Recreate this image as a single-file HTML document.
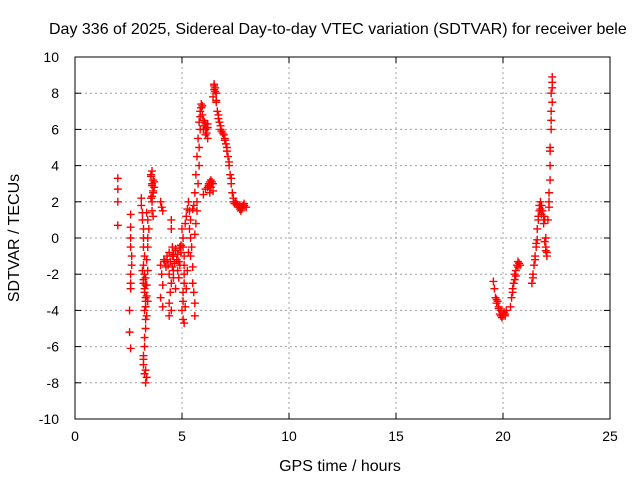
<!DOCTYPE html>
<html><head><meta charset="utf-8">
<style>
html,body{margin:0;padding:0;background:#fff;}
svg{display:block;font-family:"Liberation Sans",Arial,sans-serif;}
</style></head>
<body>
<svg id="chart" width="640" height="480" viewBox="0 0 640 480">
<rect x="0" y="0" width="640" height="480" fill="#fff"/>
<text x="49" y="34" font-size="16" fill="#000">Day 336 of 2025, Sidereal Day-to-day VTEC variation (SDTVAR) for receiver bele</text>
<g id="grid"></g>
<g id="axes"></g>
<g id="points"></g>
<text x="340" y="471" font-size="16" text-anchor="middle">GPS time / hours</text>
<text transform="translate(19,238) rotate(-90)" font-size="16" text-anchor="middle">SDTVAR / TECUs</text>
</svg>
<script>
const xTicks = [0,5,10,15,20,25];
const yTicks = [-10,-8,-6,-4,-2,0,2,4,6,8,10];
const times = [
2.0,2.0,2.0,2.0,
2.6,2.6,2.6,2.6,2.65,2.65,2.6,2.6,2.6,2.55,2.55,2.6,
3.1,3.1,3.15,3.15,3.2,3.2,3.2,3.25,3.2,3.25,3.2,3.25,3.3,3.25,3.3,3.3,3.25,3.2,3.2,3.25,3.3,3.35,3.3,3.35,
3.4,3.4,3.45,3.4,3.35,3.4,3.35,3.3,
3.55,3.6,3.65,3.6,3.7,3.65,3.55,3.6,3.6,3.65,
4.0,4.05,4.1,4.0,4.05,4.1,4.0,4.1,4.15,
4.3,4.35,4.4,4.5,4.5,4.55,4.55,4.6,4.5,4.45,4.4,4.4,4.5,4.6,4.7,4.75,4.8,4.85,4.9,4.95,4.9,4.7,4.6,
5.0,5.05,5.05,5.1,5.1,5.1,5.1,5.05,5.05,5.0,5.05,5.1,
5.3,5.35,5.4,5.35,5.4,5.45,5.4,5.5,5.5,5.55,5.6,5.6,5.55,5.5,
5.6,5.65,5.7,5.7,5.75,5.8,5.8,5.85,5.85,5.9,5.9,
5.95,6.0,6.05,6.1,6.15,6.2,6.1,6.2,
6.0,6.1,6.2,6.3,6.35,6.4,6.45,6.3,
6.45,6.5,6.5,6.55,6.6,6.6,6.65,6.7,6.75,
6.8,6.9,7.0,7.05,7.1,7.15,
7.2,7.25,7.3,7.35,7.4,7.45,
7.5,7.6,7.7,7.8,7.9,8.0,7.75,7.85,
19.55,19.6,19.65,19.7,19.75,19.8,19.85,19.9,19.95,20.0,20.05,20.1,
20.35,20.4,20.45,20.5,20.55,20.6,20.65,20.7,20.75,
21.35,21.4,21.45,21.5,21.55,21.6,21.6,
21.65,21.7,21.75,21.8,21.85,21.9,21.95,22.0,22.0,22.05,22.05,
22.1,22.15,22.15,22.2,22.2,22.2,22.25,22.25,22.3,22.25,22.3,22.3,
3.15,3.2,3.25,3.3,3.3,3.35,3.25,3.2,3.3,3.35,3.4,3.3,
3.55,3.6,3.7,3.65,3.6,
4.2,4.25,4.3,4.4,4.45,4.55,4.6,4.65,4.7,4.8,4.85,4.95,
5.15,5.2,5.25,5.2,5.15,5.25,5.3,
5.6,5.65,5.7,5.75,5.8,5.85,5.9,
5.95,6.0,6.05,6.1,6.15,6.2,6.25,6.3,
6.25,6.3,6.35,6.4,6.45,6.5,
6.55,6.6,6.7,6.8,6.85,6.95,7.0,7.1,7.2,7.3,7.4,
7.55,7.65,7.7,7.8,7.9,
19.7,19.8,19.9,20.0,20.1,20.15,
20.45,20.55,20.6,20.7,20.8,
21.4,21.5,21.55,21.65,21.7,21.75,21.8,21.9,21.95,22.0,
22.15,22.2,22.25,22.3
];
const values = [
3.3,2.7,2.0,0.7,
1.3,0.6,0.0,-0.5,-1.0,-1.5,-2.0,-2.5,-2.8,-4.0,-5.2,-6.1,
2.2,1.8,1.4,1.0,0.5,0.0,-0.5,-1.0,-1.5,-2.0,-2.5,-3.0,-3.5,-4.0,-4.5,-5.0,-5.5,-6.5,-7.0,-7.5,-8.0,-3.2,-2.2,-1.2,
-0.5,0.0,0.5,1.0,1.4,-1.8,-2.6,-3.8,
3.5,3.7,3.2,3.0,2.8,2.5,2.2,2.0,1.5,1.2,
2.0,1.7,1.5,-1.5,-2.0,-2.6,-3.3,-3.8,-1.2,
-1.0,-1.5,-2.0,1.0,0.5,-0.5,-1.0,-1.8,-2.5,-3.0,-3.6,-4.3,-4.0,-1.0,-0.7,-1.2,-1.8,-2.2,-1.5,-0.8,-0.5,-2.8,-2.2,
0.5,0.0,-0.5,-1.0,-1.5,-2.0,-2.5,-3.0,-3.5,-4.0,-4.5,-4.7,
2.0,1.5,1.0,0.5,0.0,-0.5,-1.0,-1.6,-2.5,-3.0,-3.6,-4.3,1.8,1.6,
0.2,0.8,1.5,2.0,3.0,4.0,5.0,6.0,6.7,7.2,7.4,
7.3,6.5,6.2,6.0,5.8,5.5,6.3,6.1,
2.4,2.7,2.8,3.0,3.2,3.1,2.6,2.5,
7.8,8.2,8.5,8.3,8.0,7.5,7.0,6.6,6.4,
6.0,5.8,5.5,5.2,5.0,4.5,
4.0,3.5,3.0,2.5,2.0,1.9,
2.0,1.8,1.6,1.7,1.9,1.7,1.5,1.8,
-2.4,-2.8,-3.3,-3.6,-3.5,-3.9,-4.2,-4.3,-4.4,-4.3,-4.1,-4.3,
-3.8,-3.3,-2.8,-2.5,-2.0,-1.8,-1.5,-1.3,-1.4,
-2.5,-2.0,-1.5,-1.0,-0.5,-0.1,0.5,
1.0,1.5,2.0,1.8,1.5,1.2,1.0,0.0,-0.5,-0.8,-1.0,
1.0,1.7,2.5,3.2,4.0,5.0,6.0,6.5,7.5,8.0,8.6,8.9,
-1.8,-2.3,-2.8,-3.3,-3.8,-4.3,-6.0,-6.7,-7.3,-7.7,-3.5,-2.6,
3.4,2.9,3.1,2.6,2.3,
-1.3,-1.6,-1.2,-0.8,-1.3,-1.6,-0.9,-1.4,-0.6,-0.9,-1.3,-0.4,
0.8,1.2,1.6,-2.8,-3.8,-1.8,-0.8,
2.5,3.5,4.5,5.5,6.4,7.0,7.2,
6.8,6.0,6.4,5.7,6.1,6.3,3.0,2.8,
2.9,3.1,2.8,3.0,3.0,8.4,
8.1,7.6,6.8,6.2,5.9,5.7,5.4,4.8,4.2,3.3,2.2,
1.9,1.7,1.8,1.6,1.8,
-3.4,-3.8,-4.0,-4.2,-4.2,-4.0,
-3.0,-2.3,-2.1,-1.6,-1.5,
-2.2,-1.2,-0.3,1.2,1.8,1.6,1.3,0.8,-0.2,-0.7,
2.0,4.8,7.0,8.3
];
const L=75,R=610,T=57,B=419;
const sx=t=>L+(t-0)/(25-0)*(R-L);
const sy=v=>B-(v-(-10))/(20)*(B-T);
const NS="http://www.w3.org/2000/svg";
const grid=document.getElementById('grid'),axes=document.getElementById('axes'),pts=document.getElementById('points');
function mk(tag,attrs,parent){const e=document.createElementNS(NS,tag);for(const k in attrs)e.setAttribute(k,attrs[k]);parent.appendChild(e);return e;}
xTicks.forEach(t=>{
  const x=sx(t);
  if(t>0&&t<25){const g=mk('line',{x1:x,y1:T,x2:x,y2:B,stroke:'#a0a0a0','stroke-dasharray':'2,3'},grid);
  
  }
  mk('line',{x1:x,y1:B,x2:x,y2:B-6,stroke:'#000'},axes);
  mk('line',{x1:x,y1:T,x2:x,y2:T+6,stroke:'#000'},axes);
  const lb=mk('text',{x:x,y:B+22,'font-size':14,'text-anchor':'middle'},axes);
  lb.textContent=t;
  
  
});
yTicks.forEach(v=>{
  const y=sy(v);
  if(v>-10&&v<10){const g=mk('line',{x1:L,y1:y,x2:R,y2:y,stroke:'#a0a0a0','stroke-dasharray':'2,3'},grid);
  
  }
  mk('line',{x1:L,y1:y,x2:L+6,y2:y,stroke:'#000'},axes);
  mk('line',{x1:R,y1:y,x2:R-6,y2:y,stroke:'#000'},axes);
  const lb=mk('text',{x:L-16,y:y+5,'font-size':14,'text-anchor':'end'},axes);
  lb.textContent=v;
  
  
});
mk('rect',{x:L,y:T,width:R-L,height:B-T,fill:'none',stroke:'#000'},axes);
times.forEach((t,i)=>{
  const x=sx(t),y=sy(values[i]);
  const p=mk('path',{d:`M${x-4},${y}H${x+4}M${x},${y-4}V${y+4}`,stroke:'#ff0000','stroke-width':1.4},pts);
  
  
});
</script>
</body></html>
